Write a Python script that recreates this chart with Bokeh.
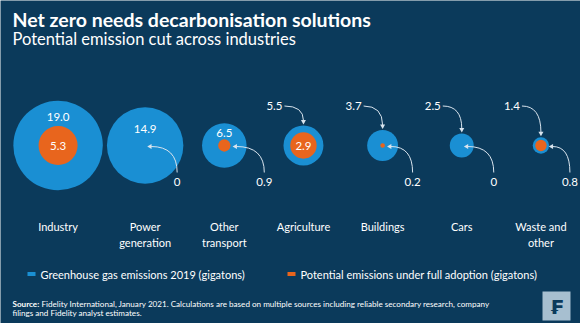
import numpy as np
from bokeh.plotting import figure
from bokeh.models import Range1d, ColumnDataSource, LinearScale
from bokeh.core.properties import value
from bokeh.embed import file_html
from bokeh.resources import INLINE

# ---------------- data ----------------
categories = ["Industry", "Power generation", "Other transport", "Agriculture",
              "Buildings", "Cars", "Waste and other"]
category_labels = ["Industry", "Power\ngeneration", "Other\ntransport", "Agriculture",
                   "Buildings", "Cars", "Waste and\nother"]
emissions_2019 = [19.0, 14.9, 6.5, 5.5, 3.7, 2.5, 1.4]          # gigatons
emissions_full_adoption = [5.3, 0.0, 0.9, 2.9, 0.2, 0.0, 0.8]   # gigatons
series_names = ["Greenhouse gas emissions 2019 (gigatons)",
                "Potential emissions under full adoption (gigatons)"]
title_text = "Net zero needs decarbonisation solutions"
subtitle_text = "Potential emission cut across industries"
source_bold = "Source:"
source_line1 = ("Fidelity International, January 2021. Calculations are based on multiple "
                "sources including reliable secondary research, company")
source_line2 = "filings and Fidelity analyst estimates."

# ---------------- layout / style ----------------
W, H = 580, 323
LEFT = 18            # left edge of the category band area (px)
CY = 145
GROUP_PAD = 0.1      # extra gap after the first category (in category units)
FONT = value("Lato")
BG = "#0b3a5b"
BLUE = "#1a8fd3"
ORANGE = "#e8651d"
WHITE = "#ffffff"
ARROW = "#d9e4ee"
LOGO_BG = "#a7bfd0"

blue_label_inside = [True, True, True, False, False, False, False]
orange_label_inside = [True, False, False, True, False, False, False]
low_label_dx = [0, 32, 40, 0, 30, 32, 29]   # px right of centre for outside orange labels


def radius(v):
    v = np.asarray(v, dtype=float)
    return np.where(v > 0, 6.6 * np.power(np.clip(v, 1e-9, None), 0.65), 0.0)


blue = np.array(emissions_2019)
orange = np.array(emissions_full_adoption)
rb = radius(blue)
ro = radius(orange)
n = len(categories)
idx = np.arange(n)
cat_pos = idx + GROUP_PAD * (idx > 0)          # band positions of the categories
S = (W - LEFT) / (n + GROUP_PAD)               # px per category unit
cat_start = -0.5 - LEFT / S

p = figure(width=W, height=H, x_range=Range1d(0, W), y_range=Range1d(H, 0),
           output_backend="svg", toolbar_location=None,
           x_axis_location=None, y_axis_location=None,
           min_border_left=0, min_border_right=0, min_border_top=0, min_border_bottom=0,
           background_fill_color=BG, border_fill_color=BG, outline_line_color=None)
p.grid.visible = False
p.extra_x_ranges = {"cat": Range1d(cat_start, cat_start + W / S)}
p.extra_x_scales = {"cat": LinearScale()}


def at(i, dx_px=0.0):
    return float(cat_pos[i] + dx_px / S)


# circles
p.scatter(x="x", y="y", size="size", x_range_name="cat",
          source=ColumnDataSource(dict(x=cat_pos.astype(float), y=[CY] * n, size=2 * rb)),
          fill_color=BLUE, line_color=None)
oi = [i for i in range(n) if orange[i] > 0]
p.scatter(x="x", y="y", size="size", x_range_name="cat",
          source=ColumnDataSource(dict(x=[at(i) for i in oi], y=[CY] * len(oi),
                                       size=[2 * ro[i] for i in oi])),
          fill_color=ORANGE, line_color=None)


def fmt_blue(v):
    return f"{v:.1f}"


def fmt_orange(v):
    return "0" if v == 0 else f"{v:.1f}"


# value labels + connector arrows
lab_x, lab_y, lab_t = [], [], []
tq = dict(x0=[], y0=[], x1=[], y1=[], cx=[], cy=[])
heads_down = dict(x=[], y=[])
heads_left = dict(x=[], y=[])
TOP = 105.5
LOW = 181
for i in range(n):
    if blue_label_inside[i]:
        lab_x.append(at(i)); lab_y.append(CY - 0.42 * rb[i] - 0.5 * ro[i])
    else:
        lab_x.append(at(i, -29)); lab_y.append(TOP)
        tq["x0"].append(at(i, -19)); tq["y0"].append(TOP)
        tq["x1"].append(at(i)); tq["y1"].append(CY - rb[i] - 5)
        tq["cx"].append(at(i)); tq["cy"].append(TOP)
        heads_down["x"].append(at(i)); heads_down["y"].append(CY - rb[i] - 4)
    lab_t.append(fmt_blue(blue[i]))
    if orange_label_inside[i]:
        lab_x.append(at(i)); lab_y.append(CY)
    else:
        dx = low_label_dx[i]
        lab_x.append(at(i, dx)); lab_y.append(LOW)
        tq["x0"].append(at(i, dx)); tq["y0"].append(172)
        tq["x1"].append(at(i, ro[i] + 6)); tq["y1"].append(CY + 1)
        tq["cx"].append(at(i, dx)); tq["cy"].append(CY + 1)
        heads_left["x"].append(at(i, ro[i] + 5)); heads_left["y"].append(CY + 1)
    lab_t.append(fmt_orange(orange[i]))

p.quadratic(x0="x0", y0="y0", x1="x1", y1="y1", cx="cx", cy="cy", x_range_name="cat",
            source=ColumnDataSource(tq), line_color=ARROW, line_width=1)
p.scatter(x="x", y="y", source=ColumnDataSource(heads_down), marker="inverted_triangle",
          x_range_name="cat", size=5, fill_color=ARROW, line_color=None)
p.scatter(x="x", y="y", source=ColumnDataSource(heads_left), marker="triangle",
          x_range_name="cat", angle=np.pi / 2, size=5, fill_color=ARROW, line_color=None)
p.text(x="x", y="y", text="t", x_range_name="cat",
       source=ColumnDataSource(dict(x=lab_x, y=lab_y, t=lab_t)),
       text_align="center", text_baseline="middle", text_color=WHITE,
       text_font=FONT, text_font_size="11.5px")

# category labels
p.text(x="x", y="y", text="t", x_range_name="cat",
       source=ColumnDataSource(dict(x=cat_pos.astype(float), y=[219] * n, t=category_labels)),
       text_align="center", text_baseline="top", text_color=WHITE, text_font=FONT,
       text_font_size="11px", text_line_height=1.3)

# legend
p.rect(x=[31, 291], y=[273.5, 273.5], width=[8, 8], height=[4, 4],
       fill_color=[BLUE, ORANGE], line_color=None)
p.text(x=[40, 300], y=[274, 274], text=series_names, text_font=FONT,
       text_font_size="11px", text_color=WHITE, text_baseline="middle")

# titles
p.text(x=[12], y=[19], text=[title_text], text_font=FONT, text_font_style="bold",
       text_font_size="19.5px", text_color=WHITE, text_baseline="middle")
p.text(x=[12], y=[38], text=[subtitle_text], text_font=FONT,
       text_font_size="16.5px", text_color=WHITE, text_baseline="middle")

# source
p.text(x=[12], y=[303], text=[source_bold], text_font=FONT, text_font_style="bold",
       text_font_size="8.1px", text_color=WHITE, text_baseline="middle")
p.text(x=[41, 12], y=[303, 312], text=[source_line1, source_line2], text_font=FONT,
       text_font_size="8.1px", text_color=WHITE, text_baseline="middle")

# logo
p.rect(x=[556], y=[305.5], width=[28], height=[29], fill_color=LOGO_BG, line_color=None)
p.text(x=[556], y=[306], text=["\u20a3"], text_font=value("DejaVu Sans"),
       text_font_style="bold", text_font_size="20px", text_color=BG,
       text_align="center", text_baseline="middle")

open("out.html", "w").write(file_html(p, INLINE))
